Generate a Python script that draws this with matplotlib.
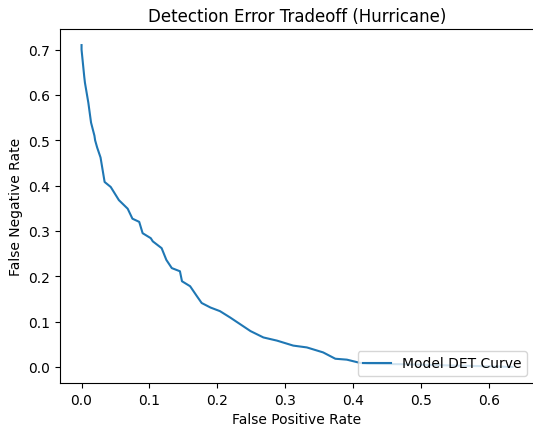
import matplotlib
matplotlib.use("Agg")
import matplotlib.pyplot as plt

# false positive / false negative rates
fpr = [0.0, 0.0, 0.004, 0.005, 0.010, 0.014, 0.019, 0.020, 0.023, 0.028,
       0.034, 0.043, 0.055, 0.068, 0.075, 0.085, 0.090, 0.102, 0.105,
       0.118, 0.125, 0.133, 0.145, 0.148, 0.160, 0.170, 0.177, 0.190,
       0.204, 0.219, 0.234, 0.249, 0.268, 0.288, 0.312, 0.332, 0.356,
       0.374, 0.391, 0.410, 0.422, 0.470, 0.520, 0.580, 0.635]
fnr = [0.710, 0.700, 0.640, 0.627, 0.583, 0.539, 0.510, 0.500, 0.484, 0.462,
       0.408, 0.397, 0.368, 0.349, 0.327, 0.320, 0.295, 0.284, 0.277,
       0.262, 0.236, 0.218, 0.211, 0.189, 0.178, 0.156, 0.141, 0.131,
       0.123, 0.109, 0.094, 0.079, 0.065, 0.058, 0.047, 0.043, 0.032,
       0.018, 0.016, 0.009, 0.007, 0.006, 0.004, 0.002, 0.0]


def main():
    fig = plt.figure(figsize=(5.33, 4.31), dpi=100)
    ax = fig.add_axes([60 / 533, 47 / 431, 474 / 533, 354 / 431])

    ax.plot(fpr, fnr, color="#1f77b4", label="Model DET Curve")

    ax.set_xlabel("False Positive Rate")
    ax.set_ylabel("False Negative Rate")
    ax.set_title("Detection Error Tradeoff (Hurricane)")
    ax.legend(loc="lower right")

    fig.savefig("out.png", dpi=100)
    plt.close(fig)


main()
